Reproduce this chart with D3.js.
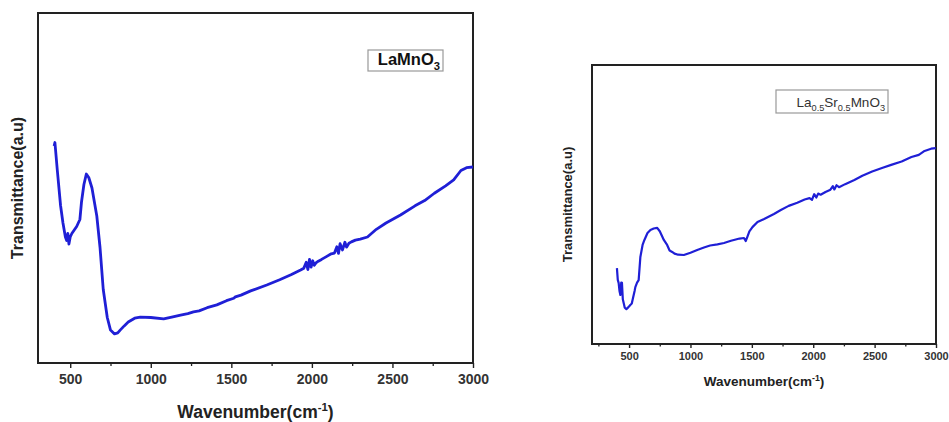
<!DOCTYPE html>
<html>
<head>
<meta charset="utf-8">
<script src="https://cdn.jsdelivr.net/npm/d3@7"></script>
<style>
  body { margin: 0; background: #fff; }
  svg text { font-family: "Liberation Sans", Arial, sans-serif; }
</style>
</head>
<body>
<svg width="949" height="422"></svg>
<script>
// LaMnO3 spectrum (wavenumber, transmittance a.u.)
var waveA = [400, 405, 420, 440, 455, 470, 478, 485, 492, 500, 510, 525, 540, 550, 560, 570, 585, 600, 615, 635, 650, 665, 685, 705, 730, 750, 775, 795, 810, 835, 860, 900, 935, 1000, 1080, 1130, 1185, 1230, 1265, 1300, 1350, 1410, 1470, 1515, 1525, 1560, 1620, 1720, 1800, 1870, 1930, 1950, 1965, 1975, 1985, 1995, 2005, 2015, 2025, 2040, 2060, 2090, 2120, 2140, 2155, 2165, 2175, 2190, 2205, 2215, 2230, 2245, 2270, 2300, 2345, 2400, 2460, 2550, 2640, 2700, 2760, 2830, 2880, 2925, 2960, 3000];
var transA = [62, 63, 55, 45, 40, 36, 35, 37, 34, 36, 37, 38, 39, 40, 41, 46, 51, 54, 53, 50, 46, 42, 33, 21, 13, 9.4, 8.3, 8.6, 9.4, 10.6, 11.7, 12.8, 13.1, 13, 12.6, 13.1, 13.7, 14.1, 14.6, 14.9, 15.8, 16.6, 17.8, 18.5, 18.9, 19.4, 20.6, 22.3, 23.8, 25.2, 26.6, 27.1, 28.8, 26.7, 29.6, 27.4, 29.2, 27.9, 28.6, 29.1, 29.6, 30.4, 31.2, 31.4, 33.2, 31.3, 34.1, 32.3, 34.5, 33.1, 34.2, 34.6, 35.1, 35.4, 36, 38.2, 40, 42.3, 44.9, 46.4, 48.5, 50.6, 52.3, 55, 55.8, 56];

// La0.5Sr0.5MnO3 spectrum
var waveB = [401, 408, 415, 422, 429, 436, 442, 449, 456, 465, 478, 495, 510, 522, 532, 545, 551, 565, 578, 592, 610, 625, 650, 674, 700, 729, 750, 770, 783, 810, 830, 851, 870, 900, 946, 1000, 1055, 1110, 1160, 1220, 1273, 1330, 1400, 1436, 1450, 1465, 1480, 1505, 1546, 1600, 1680, 1736, 1800, 1870, 1930, 1970, 1990, 2008, 2025, 2040, 2060, 2100, 2140, 2160, 2172, 2190, 2210, 2260, 2335, 2400, 2480, 2560, 2635, 2720, 2800, 2860, 2907, 2960, 2998];
var transB = [27.2, 23, 21.9, 19, 17.6, 22, 21.9, 16, 14.7, 13, 12.5, 13.2, 14, 14.5, 16.5, 19, 20.4, 22, 22.9, 31.2, 35.5, 37.3, 39.8, 40.9, 41.4, 41.6, 40.4, 38.5, 37.3, 35.5, 33.5, 33, 32.4, 32, 31.9, 32.7, 33.7, 34.6, 35.3, 35.7, 36.2, 37, 37.8, 38, 36.9, 38.6, 40.4, 41.9, 43.7, 44.8, 46.6, 48, 49.5, 50.6, 51.8, 52.3, 51.7, 53.7, 52.5, 53.9, 53.5, 54.5, 55.3, 56.6, 55.4, 56.9, 56.2, 57.3, 58.8, 60.3, 61.8, 63.1, 64.2, 65.4, 67, 67.8, 69.2, 70, 70.2];

var xTicks = [500, 1000, 1500, 2000, 2500, 3000];
var xMinor = [250, 750, 1250, 1750, 2250, 2750];

var panels = [
  { wave: waveA, trans: transA, left: 38, top: 13, right: 473, bottom: 363, xMin: 300,
    tickSize: 14, titleSize: 17.5, yTitleSize: 16, tickLen: 5, lineW: 2.8,
    legend: { x: 368, y: 50, w: 75, h: 21, bold: true, size: 16.5, parts: [["LaMnO", 0], ["3", 1]] },
    xTitleY: 418, yTitleX: 23 },
  { wave: waveB, trans: transB, left: 592, top: 65, right: 936, bottom: 344, xMin: 198,
    tickSize: 11, titleSize: 13.5, yTitleSize: 13, tickLen: 4, lineW: 2.2,
    legend: { x: 776, y: 90, w: 112, h: 23, bold: false, size: 13.5, parts: [["La", 0], ["0.5", 1], ["Sr", 0], ["0.5", 1], ["MnO", 0], ["3", 1]] },
    xTitleY: 386, yTitleX: 572 }
];

var svg = d3.select("svg");

panels.forEach(function (p) {
  var x = d3.scaleLinear().domain([p.xMin, 3000]).range([p.left, p.right]);
  var y = d3.scaleLinear().domain([0, 100]).range([p.bottom, p.top]);
  var g = svg.append("g");

  // frame
  g.append("rect")
    .attr("x", p.left).attr("y", p.top)
    .attr("width", p.right - p.left).attr("height", p.bottom - p.top)
    .attr("fill", "none").attr("stroke", "#222").attr("stroke-width", 2);

  // x axis
  var ax = g.append("g").attr("transform", "translate(0," + p.bottom + ")")
    .call(d3.axisBottom(x).tickValues(xTicks).tickFormat(d3.format("d")).tickSize(p.tickLen).tickPadding(p.tickSize * 0.4));
  ax.select(".domain").remove();
  ax.selectAll(".tick line").attr("stroke", "#222").attr("stroke-width", 1.4);
  ax.selectAll("text").attr("font-size", p.tickSize).attr("font-weight", "bold").attr("fill", "#333")
    .attr("font-family", "Liberation Sans, Arial, sans-serif");
  var mn = g.append("g").attr("transform", "translate(0," + p.bottom + ")")
    .call(d3.axisBottom(x).tickValues(xMinor.filter(function (v) { return v > p.xMin; })).tickFormat("").tickSize(p.tickLen * 0.6));
  mn.select(".domain").remove();
  mn.selectAll(".tick line").attr("stroke", "#222").attr("stroke-width", 1.3);

  // curve
  var pts = p.wave.map(function (w, i) { return [w, p.trans[i]]; });
  g.append("path").datum(pts)
    .attr("fill", "none").attr("stroke", "#1f1fd6").attr("stroke-width", p.lineW)
    .attr("stroke-linejoin", "round")
    .attr("d", d3.line().x(function (d) { return x(d[0]); }).y(function (d) { return y(d[1]); }));

  // axis titles
  var xt = g.append("text").attr("x", (p.left + p.right) / 2).attr("y", p.xTitleY)
    .attr("text-anchor", "middle").attr("font-weight", "bold").attr("font-size", p.titleSize).attr("fill", "#222");
  xt.append("tspan").text("Wavenumber(cm");
  xt.append("tspan").attr("dy", -p.titleSize * 0.4).attr("font-size", p.titleSize * 0.65).text("-1");
  xt.append("tspan").attr("dy", p.titleSize * 0.4).text(")");

  g.append("text")
    .attr("transform", "translate(" + p.yTitleX + "," + (p.top + p.bottom) / 2 + ") rotate(-90)")
    .attr("text-anchor", "middle").attr("font-weight", "bold").attr("font-size", p.yTitleSize).attr("fill", "#222")
    .text("Transmittance(a.u)");

  // legend box
  var L = p.legend;
  g.append("rect").attr("x", L.x).attr("y", L.y).attr("width", L.w).attr("height", L.h)
    .attr("fill", "#fff").attr("stroke", "#999").attr("stroke-width", 1.2);
  var lt = g.append("text").attr("x", L.x + L.w - 3).attr("y", L.y + L.h * 0.72)
    .attr("text-anchor", "end").attr("font-size", L.size)
    .attr("font-weight", L.bold ? "bold" : "normal").attr("fill", L.bold ? "#111" : "#333");
  var prev = 0;
  L.parts.forEach(function (part) {
    var t = lt.append("tspan").text(part[0]);
    var shift = part[1] ? L.size * 0.3 : 0;
    if (shift !== prev) t.attr("dy", shift - prev);
    if (part[1]) t.attr("font-size", L.size * 0.68);
    prev = shift;
  });
});
</script>
</body>
</html>
